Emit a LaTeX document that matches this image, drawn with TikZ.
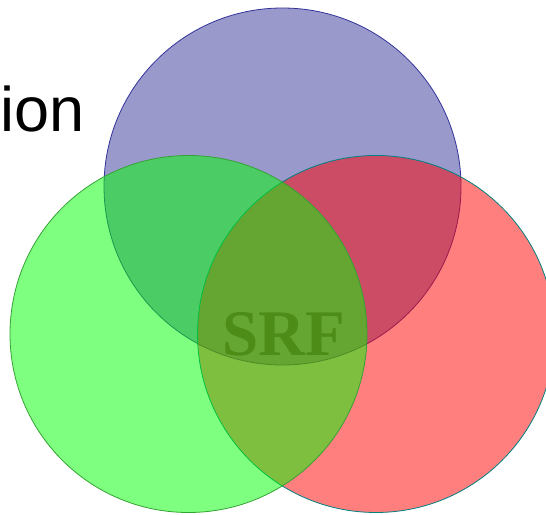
\documentclass[tikz,border=0pt]{standalone}
\usepackage{fontspec}
\usepackage{xcolor}
\usepackage{tikz}
\setmainfont{Liberation Serif}
\newfontfamily\headfont{Liberation Sans}
\definecolor{setblue}{HTML}{000080}
\definecolor{setgreen}{HTML}{00FF00}
\definecolor{setred}{HTML}{FF0000}
\definecolor{srfgreen}{HTML}{4E8C18}

\begin{document}
\begin{tikzpicture}[x=1pt, y=-1pt,
    setcircle/.style={circle, inner sep=0pt, minimum size=357pt, line width=0.8pt}]
  \useasboundingbox (0,0) rectangle (546,514);
  \clip (0,0) rectangle (546,514);
  % the three sets
  \node[setcircle, draw=setblue!80, fill=setblue, fill opacity=0.4] (blue) at (282.5,186.5) {};
  \node[setcircle, draw=teal, fill=setred, fill opacity=0.5] (red) at (376,334) {};
  \node[setcircle, draw=green!55!black!80, fill=setgreen, fill opacity=0.5] (green) at (188.5,334) {};
  % labels
  \node[anchor=base west, inner sep=0pt,
        font=\headfont\fontsize{63}{63}\selectfont] (title) at (0,131) {ion};
  \node[anchor=base, inner sep=0pt, text=srfgreen,
        font=\bfseries\fontsize{65}{65}\selectfont] (srf) at (284,355) {SRF};
\end{tikzpicture}
\end{document}
